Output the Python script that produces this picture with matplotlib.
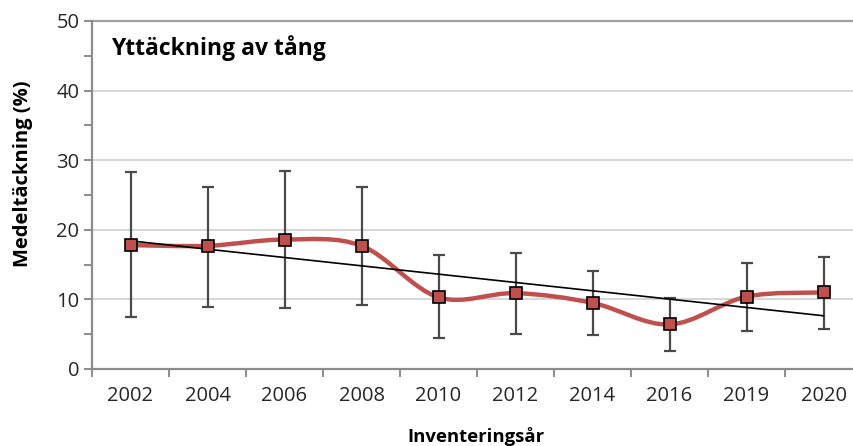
import numpy as np
import matplotlib
matplotlib.use("Agg")
import matplotlib.pyplot as plt
from matplotlib.path import Path
from matplotlib.patches import PathPatch
from matplotlib.ticker import MultipleLocator

years = ["2002", "2004", "2006", "2008", "2010", "2012", "2014", "2016", "2019", "2020"]
mean_cover = [17.8, 17.7, 18.6, 17.7, 10.3, 10.9, 9.5, 6.4, 10.4, 11.0]
err_upper = [28.3, 26.2, 28.5, 26.2, 16.4, 16.6, 14.1, 10.2, 15.3, 16.1]
err_lower = [7.4, 8.9, 8.7, 9.2, 4.5, 5.1, 4.9, 2.6, 5.5, 5.8]

plt.rcParams["font.family"] = ["Open Sans", "DejaVu Sans"]

fig = plt.figure(figsize=(8.54, 4.46), dpi=100)
W, H = 854, 446
left, right, top, bottom = 92, 862, 21, 369
ax = fig.add_axes([left / W, (H - bottom) / H, (right - left) / W, (bottom - top) / H])

x = np.arange(len(years))
y = np.array(mean_cover)

ax.set_xlim(-0.5, len(years) - 0.5)
ax.set_ylim(0, 50)

# gridlines
for g in [10, 20, 30, 40]:
    ax.axhline(g, color="#d0d0d0", lw=1.2, zorder=0)
ax.axhline(50, color="#a0a0a0", lw=1.6, zorder=0, clip_on=False)

# smoothed series line (cardinal spline as Bezier segments)
verts = [(x[0], y[0])]
codes = [Path.MOVETO]
px = np.concatenate([[x[0]], x, [x[-1]]])
py = np.concatenate([[y[0]], y, [y[-1]]])
for i in range(len(x) - 1):
    p0 = np.array([px[i], py[i]])
    p1 = np.array([px[i + 1], py[i + 1]])
    p2 = np.array([px[i + 2], py[i + 2]])
    p3 = np.array([px[i + 3], py[i + 3]])
    c1 = p1 + (p2 - p0) / 6.0
    c2 = p2 - (p3 - p1) / 6.0
    verts += [tuple(c1), tuple(c2), tuple(p2)]
    codes += [Path.CURVE4] * 3
ax.add_patch(PathPatch(Path(verts, codes), facecolor="none", edgecolor="#C0504D",
                       lw=3.2, zorder=2, capstyle="round", joinstyle="round"))

# error bars
yerr = np.array([y - np.array(err_lower), np.array(err_upper) - y])
ax.errorbar(x, y, yerr=yerr, fmt="none", ecolor="#4a4a4a", elinewidth=1.6,
            capsize=4.5, capthick=1.6, zorder=3)

# linear trend
coef = np.polyfit(x, y, 1)
ax.plot([x[0], x[-1]], np.polyval(coef, [x[0], x[-1]]), color="black", lw=1.2, zorder=4)

# markers
ax.plot(x, y, ls="none", marker="s", ms=9, mfc="#C0504D", mec="black", mew=1.2, zorder=5)

# axes styling
for s in ["top", "right"]:
    ax.spines[s].set_visible(False)
for s in ["left", "bottom"]:
    ax.spines[s].set_color("#8c8c8c")
    ax.spines[s].set_linewidth(1.6)

ax.yaxis.set_major_locator(MultipleLocator(10))
ax.yaxis.set_minor_locator(MultipleLocator(5))
ax.tick_params(axis="y", which="both", direction="out", length=6, width=1.4,
               color="#8c8c8c", labelsize=14.5, labelcolor="#262626", pad=3)
ax.set_xticks(x)
ax.set_xticklabels(years)
ax.set_xticks(np.arange(-0.5, len(years), 1.0), minor=True)
ax.tick_params(axis="x", which="major", length=0, labelsize=14.5, labelcolor="#262626", pad=12)
ax.tick_params(axis="x", which="minor", direction="out", length=6, width=1.4, color="#8c8c8c")

fig.text(111 / W, 1 - 48 / H, "Yttäckning av tång", fontsize=16.5, fontweight="bold",
         ha="left", va="center", color="black")
fig.text(23 / W, 1 - 174 / H, "Medeltäckning (%)", fontsize=14.5, fontweight="bold",
         rotation=90, ha="center", va="center", color="black")
fig.text(476 / W, 1 - 437 / H, "Inventeringsår", fontsize=13.3, fontweight="bold",
         ha="center", va="center", color="black")

fig.savefig("out.png", dpi=100)
